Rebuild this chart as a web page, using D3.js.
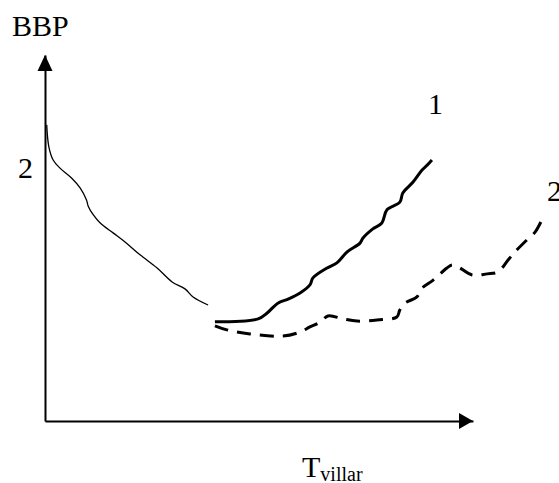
<!DOCTYPE html>
<html>
<head>
<meta charset="utf-8">
<script src="https://cdn.jsdelivr.net/npm/d3@7"></script>
<style>
  body { margin: 0; background: #fff; }
  svg { display: block; }
  text { font-family: "Liberation Serif", "Times New Roman", serif; fill: #000; }
</style>
</head>
<body>
<svg id="svg1" width="559" height="483"></svg>
<script>
// curve, arbitrary units (x: 0..100 along axis, y: 0..100 along axis)
const leftCurve = [
  [0.4, 80.9], [0.9, 74.9], [1.9, 71.3], [3.5, 69.1], [6.2, 66.4], [8.2, 63.7],
  [9.7, 60.4], [10.1, 58.7], [11.3, 56.3], [12.9, 54.1], [15.9, 51.4], [18.7, 48.9],
  [22.2, 45.4], [26.2, 41.8], [29.7, 38.0], [32.7, 36.1], [34.6, 33.9], [38.1, 31.7]
];
const curve1 = [
  [39.7, 27.1], [49.8, 27.9], [51.9, 29.5], [54.4, 32.2], [56.8, 33.3], [59.6, 35.0],
  [61.9, 37.2], [62.6, 39.1], [65.9, 41.8], [68.2, 43.2], [70.6, 46.2], [73.6, 48.6],
  [74.3, 50.0], [76.6, 52.5], [78.7, 54.1], [79.9, 57.7], [82.9, 59.8], [83.6, 62.3],
  [86.0, 65.3], [88.1, 68.6], [89.3, 69.9], [90.4, 71.3]
];
const curve2 = [
  [39.7, 26.0], [42.5, 24.9], [47.9, 23.8], [55.6, 23.2], [59.6, 24.3], [61.9, 25.7],
  [64.3, 27.0], [66.1, 28.7], [69.6, 27.9], [72.9, 27.3], [77.6, 27.6], [82.2, 28.4],
  [82.9, 30.3], [84.1, 32.2], [86.9, 33.9], [88.1, 36.3], [90.7, 38.5], [93.9, 41.8],
  [95.1, 42.6], [96.5, 42.1], [99.8, 39.9], [103.3, 40.2], [105.8, 40.7], [108.2, 44.0],
  [109.8, 46.2], [112.6, 49.5], [114.5, 51.6], [116.4, 55.7]
];
const yLabel = "BBP";
const xLabel = "T";
const xLabelSub = "villar";
const curveLabels = ["2", "1", "2"];

const svg1 = d3.select("#svg1");
const margin = { top: 55, right: 86, bottom: 62, left: 45 };
const width1 = +svg1.attr("width");
const height1 = +svg1.attr("height");
const innerWidth = width1 - margin.left - margin.right;
const innerHeight = height1 - margin.top - margin.bottom;

const xScale = d3.scaleLinear().domain([0, 100]).range([0, innerWidth]);
const yScale = d3.scaleLinear().domain([0, 100]).range([innerHeight, 0]);

const a = svg1.append("g")
  .attr("transform", `translate(${margin.left}, ${margin.top})`);

// axes with no ticks, just the lines
const xAxisG = a.append("g")
  .attr("transform", `translate(0, ${innerHeight})`)
  .call(d3.axisBottom(xScale).tickValues([]).tickSizeOuter(0));
const yAxisG = a.append("g")
  .call(d3.axisLeft(yScale).tickValues([]).tickSizeOuter(0));
a.selectAll(".domain").attr("stroke", "#000").attr("stroke-width", 2);

// arrow heads
a.append("path")
  .attr("d", `M${innerWidth},${innerHeight} l-14,-8 l0,16 z`)
  .attr("fill", "#000");
a.append("path")
  .attr("d", `M0,0 l-7.5,16 l15,0 z`)
  .attr("fill", "#000");

const line = d3.line()
  .x(d => xScale(d[0]))
  .y(d => yScale(d[1]))
  .curve(d3.curveCatmullRom);

a.append("path").datum(leftCurve)
  .attr("d", line).attr("fill", "none")
  .attr("stroke", "#000").attr("stroke-width", 1.3);

a.append("path").datum(curve1)
  .attr("d", line).attr("fill", "none")
  .attr("stroke", "#000").attr("stroke-width", 3)
  .attr("stroke-linejoin", "round");

a.append("path").datum(curve2)
  .attr("d", line).attr("fill", "none")
  .attr("stroke", "#000").attr("stroke-width", 3)
  .attr("stroke-dasharray", "14,9");

// texts
svg1.append("text").attr("x", 12).attr("y", 36)
  .attr("font-size", 30).text(yLabel);

const xl = svg1.append("text").attr("x", 302).attr("y", 477).attr("font-size", 30);
xl.append("tspan").text(xLabel);
xl.append("tspan").attr("font-size", 20).attr("dy", 4).text(xLabelSub);

svg1.append("text").attr("x", 18).attr("y", 178).attr("font-size", 30).text(curveLabels[0]);
svg1.append("text").attr("x", 428).attr("y", 114).attr("font-size", 30).text(curveLabels[1]);
svg1.append("text").attr("x", 547).attr("y", 201).attr("font-size", 30).text(curveLabels[2]);
</script>
</body>
</html>
